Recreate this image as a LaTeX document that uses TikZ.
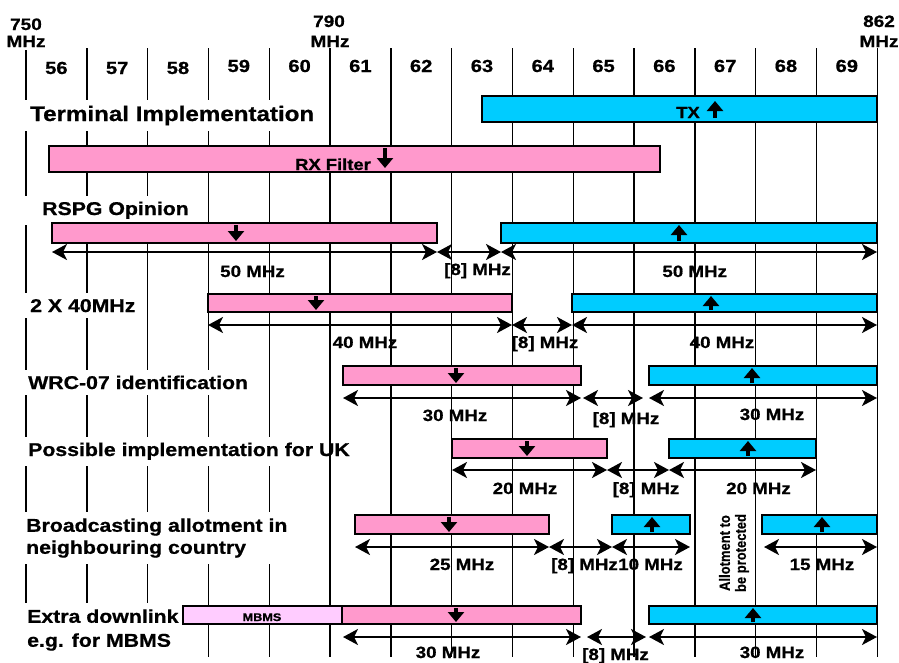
\documentclass[tikz,border=0pt]{standalone}
\usepackage{fontspec}
\usepackage{graphicx}
\setmainfont[FakeStretch=1.15, BoldFeatures={FakeBold=0.8}]{Liberation Sans}
\newfontfamily\rotfont[BoldFeatures={FakeBold=0.6}]{Liberation Sans}
\usetikzlibrary{arrows.meta}
\definecolor{rxpink}{HTML}{FF99CC}
\definecolor{txblue}{HTML}{00CCFF}
\definecolor{mbmspink}{HTML}{FFCCFF}
\newcommand\fsz[1]{\fontsize{#1}{#1}\selectfont\bfseries}
\newcommand\bandnode[6]{\node[#2, minimum width={#5pt-#3pt}, minimum height={#6pt-#4pt}] (#1) at (#3,#4) {};}
\begin{document}
\begin{tikzpicture}[x=1pt, y=-1pt,
  gridline/.style={line width=1.4pt},
  band/.style={draw, line width=2pt, anchor=north west, inner sep=0pt, outer sep=0pt},
  rxband/.style={band, fill=rxpink},
  txband/.style={band, fill=txblue},
  mbband/.style={band, fill=mbmspink},
  dimline/.style={line width=2.2pt, {Stealth[length=15pt,width=16pt,inset=4pt]}-{Stealth[length=15pt,width=16pt,inset=4pt]}},
  dirarrow/.style={line width=3.2pt, -{Triangle[length=10pt,width=16pt]}},
  hdr/.style={anchor=base, inner sep=0pt, font=\fsz{16.5}},
  chnum/.style={anchor=base, inner sep=0pt, font=\fsz{17.5}},
  rowlabel/.style={fill=white, inner sep=6pt, align=left, font=\fontsize{18.5}{23}\selectfont\bfseries},
  boxtext/.style={anchor=base, inner sep=0pt, font=\fsz{16}},
  dimtext/.style={anchor=base, inner sep=0pt, font=\fsz{16.3}}
]
\useasboundingbox (0,0) rectangle (899,662);

% grid lines left part
\draw[gridline] (26,50) -- (26,657);
\foreach \k in {1,...,4} \draw[gridline] ({26+60.8*\k},48) -- ({26+60.8*\k},657);

% row labels
\node[rowlabel, anchor=base west, font=\fontsize{21}{24}\selectfont\bfseries] (lterm) at (24,121) {Terminal Implementation};
\node[rowlabel, anchor=base west] (lrspg) at (20,215) {\hspace{16pt}RSPG Opinion};
\node[rowlabel, anchor=base west] (l2x40) at (24,312) {2 X 40MHz};
\node[rowlabel, anchor=base west] (lwrc) at (22,389) {WRC-07 identification};
\node[rowlabel, anchor=base west] (luk) at (22,456) {Possible implementation for UK};
\node[rowlabel, anchor=west, font=\fontsize{18.5}{22}\selectfont\bfseries] (lbc) at (20,538) {Broadcasting allotment in\\neighbouring country};
\node[rowlabel, anchor=west, font=\fontsize{18.5}{24}\selectfont\bfseries] (lext) at (21,630) {Extra downlink\\e.g. for MBMS};

% grid lines right part
\foreach \k in {5,...,14} \draw[gridline] ({26+60.8*\k},48) -- ({26+60.8*\k},657);

% header
\node[hdr] (h750a) at (26,30) {750};
\node[hdr] (h750b) at (26,47) {MHz};
\node[hdr] (h790a) at (329,27) {790};
\node[hdr] (h790b) at (330,47) {MHz};
\node[hdr] (h862a) at (879,27) {862};
\node[hdr] (h862b) at (879,47) {MHz};
\foreach \k/\n/\b in {0/56/74,1/57/74,2/58/74,3/59/72,4/60/72,5/61/72,6/62/72,7/63/72,8/64/72,9/65/72,10/66/72,11/67/72,12/68/72,13/69/72}
  \node[chnum] (ch\n) at ({26+60.8*(\k+0.5)},\b) {\n};

% bands
\bandnode{tx1}{txband}{482}{96}{877}{122}
\bandnode{rx2}{rxband}{49}{146}{660}{172}
\bandnode{rx3}{rxband}{52}{223}{437}{243}
\bandnode{tx3}{txband}{501}{223}{877}{243}
\bandnode{rx4}{rxband}{208}{294}{512}{312}
\bandnode{tx4}{txband}{572}{294}{877}{312}
\bandnode{rx5}{rxband}{343}{366}{581}{385}
\bandnode{tx5}{txband}{649}{366}{877}{385}
\bandnode{rx6}{rxband}{452}{439}{607}{458}
\bandnode{tx6}{txband}{669}{439}{816}{458}
\bandnode{rx7}{rxband}{355}{515}{549}{534}
\bandnode{tx7a}{txband}{612}{515}{690}{534}
\bandnode{tx7b}{txband}{762}{515}{877}{534}
\bandnode{mb8}{mbband}{183}{606}{342}{624}
\bandnode{rx8}{rxband}{342}{606}{581}{624}
\bandnode{tx8}{txband}{649}{606}{877}{624}

% band texts
\node[boxtext] (ttx) at (688,118) {TX};
\node[boxtext] (trx) at (333,170) {RX Filter};
\node[boxtext, font=\fsz{11}] (tmbms) at (262,621) {MBMS};

% direction arrows
\draw[dirarrow] (715,118) -- (715,101);
\draw[dirarrow] (385,148) -- (385,168);
\draw[dirarrow] (236,225) -- (236,241);
\draw[dirarrow] (679,241) -- (679,225);
\draw[dirarrow] (316,296) -- (316,310);
\draw[dirarrow] (711,310) -- (711,296);
\draw[dirarrow] (456,368) -- (456,383);
\draw[dirarrow] (752,383) -- (752,368);
\draw[dirarrow] (527,441) -- (527,456);
\draw[dirarrow] (748,456) -- (748,441);
\draw[dirarrow] (449,517) -- (449,532);
\draw[dirarrow] (652,532) -- (652,517);
\draw[dirarrow] (822,532) -- (822,517);
\draw[dirarrow] (456,608) -- (456,622);
\draw[dirarrow] (753,622) -- (753,608);

% dimension coordinates
\coordinate (d3a) at (52,252);  \coordinate (d3b) at (437,252);
\coordinate (d3c) at (501,252); \coordinate (d3d) at (877,252);
\coordinate (d4a) at (208,325); \coordinate (d4b) at (512,325);
\coordinate (d4c) at (572,325); \coordinate (d4d) at (877,325);
\coordinate (d5a) at (343,398); \coordinate (d5b) at (581,398);
\coordinate (d5c) at (583,398); \coordinate (d5d) at (643,398);
\coordinate (d5e) at (649,398); \coordinate (d5f) at (877,398);
\coordinate (d6a) at (452,470); \coordinate (d6b) at (607,470);
\coordinate (d6c) at (669,470); \coordinate (d6d) at (816,470);
\coordinate (d7a) at (355,547); \coordinate (d7b) at (549,547);
\coordinate (d7c) at (612,547); \coordinate (d7d) at (690,547);
\coordinate (d7e) at (764,547); \coordinate (d7f) at (877,547);
\coordinate (d8a) at (343,637); \coordinate (d8b) at (581,637);
\coordinate (d8c) at (587,637); \coordinate (d8d) at (646,637);
\coordinate (d8e) at (649,637); \coordinate (d8f) at (877,637);

\draw[dimline] (d3a) -- (d3b);
\draw[dimline] (d3b) -- (d3c);
\draw[dimline] (d3c) -- (d3d);
\draw[dimline] (d4a) -- (d4b);
\draw[dimline] (d4b) -- (d4c);
\draw[dimline] (d4c) -- (d4d);
\draw[dimline] (d5a) -- (d5b);
\draw[dimline] (d5c) -- (d5d);
\draw[dimline] (d5e) -- (d5f);
\draw[dimline] (d6a) -- (d6b);
\draw[dimline] (d6b) -- (d6c);
\draw[dimline] (d6c) -- (d6d);
\draw[dimline] (d7a) -- (d7b);
\draw[dimline] (d7b) -- (d7c);
\draw[dimline] (d7c) -- (d7d);
\draw[dimline] (d7e) -- (d7f);
\draw[dimline] (d8a) -- (d8b);
\draw[dimline] (d8c) -- (d8d);
\draw[dimline] (d8e) -- (d8f);

% dimension labels
\node[dimtext] (m3a) at (252.5,277) {50 MHz};
\node[dimtext] (m3b) at (477.5,275) {[8] MHz};
\node[dimtext] (m3c) at (694.7,277) {50 MHz};
\node[dimtext] (m4a) at (365,348) {40 MHz};
\node[dimtext] (m4b) at (545,348) {[8] MHz};
\node[dimtext] (m4c) at (722,348) {40 MHz};
\node[dimtext] (m5a) at (455,421) {30 MHz};
\node[dimtext] (m5b) at (626,424) {[8] MHz};
\node[dimtext] (m5c) at (772,420) {30 MHz};
\node[dimtext] (m6a) at (525,494) {20 MHz};
\node[dimtext] (m6b) at (646,494) {[8] MHz};
\node[dimtext] (m6c) at (758.5,494) {20 MHz};
\node[dimtext] (m7a) at (462,570) {25 MHz};
\node[dimtext] (m7b) at (584.5,570) {[8] MHz};
\node[dimtext] (m7c) at (650.5,570) {10 MHz};
\node[dimtext] (m7d) at (822,570) {15 MHz};
\node[dimtext] (m8a) at (448,658) {30 MHz};
\node[dimtext] (m8b) at (615.5,660) {[8] MHz};
\node[dimtext] (m8c) at (772,658) {30 MHz};

% rotated note
\node[rotate=90, align=center, inner sep=0pt, font=\rotfont\bfseries\fontsize{13}{16}\selectfont] (prot) at (734,553) {\scalebox{1}[1.15]{Allotment to}\\\scalebox{1}[1.15]{be protected}};
\end{tikzpicture}
\end{document}
